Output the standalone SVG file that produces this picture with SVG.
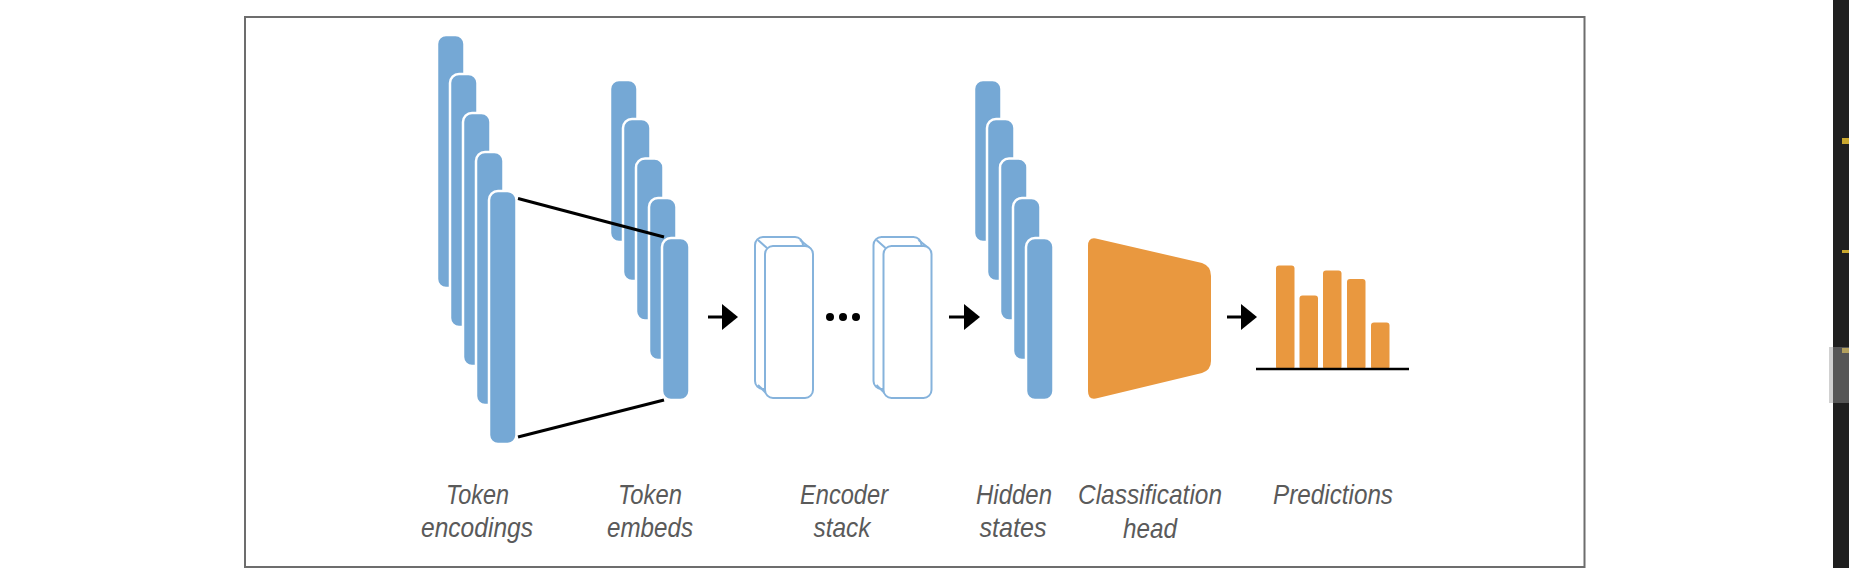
<svg xmlns="http://www.w3.org/2000/svg" width="1849" height="568" viewBox="0 0 1849 568">
  <style>
    .bar { fill: #75a8d5; stroke: #ffffff; stroke-width: 2.5; }
    .enc { fill: #ffffff; stroke: #86b3dc; stroke-width: 2; }
    .encl { fill: none; stroke: #86b3dc; stroke-width: 2; }
    .org { fill: #e9983f; }
    .lbl { font-family: "Liberation Sans", Arial, sans-serif; font-style: italic; font-size: 28px; fill: #5a5a5a; text-anchor: middle; }
    .conn { stroke: #000000; stroke-width: 3; fill: none; }
    .shaft { stroke: #000000; stroke-width: 3; fill: none; }
  </style>
  <defs>
    <rect id="tall" width="27.5" height="253" rx="9" ry="9"/>
    <rect id="short" width="27.5" height="162" rx="9" ry="9"/>
    <g id="encblock">
      <rect class="encl" x="0" y="0" width="48" height="152" rx="8" ry="8"/>
      <line class="encl" x1="3" y1="3" x2="12" y2="11"/>
      <line class="encl" x1="45" y1="3" x2="55" y2="11"/>
      <line class="encl" x1="3" y1="148" x2="12" y2="157"/>
      <rect class="enc" x="10" y="9" width="48" height="152" rx="8" ry="8"/>
    </g>
    <path id="ahead" d="M0,-13 L16,0 L0,13 Z" fill="#000000"/>
  </defs>

  <rect x="0" y="0" width="1849" height="568" fill="#ffffff"/>
  <rect x="245" y="17" width="1339.5" height="550" fill="none" stroke="#6d6d6d" stroke-width="2"/>

  <g id="token-encodings">
    <use href="#tall" class="bar" x="437" y="35"/>
    <use href="#tall" class="bar" x="450" y="74"/>
    <use href="#tall" class="bar" x="463" y="113"/>
    <use href="#tall" class="bar" x="476" y="152"/>
    <use href="#tall" class="bar" x="489" y="191"/>
    <text class="lbl" x="477.5" y="504" textLength="63" lengthAdjust="spacingAndGlyphs">Token</text>
    <text class="lbl" x="477" y="537" textLength="112" lengthAdjust="spacingAndGlyphs">encodings</text>
  </g>

  <g id="token-embeds">
    <use href="#short" class="bar" x="610" y="80"/>
    <use href="#short" class="bar" x="623" y="119"/>
    <use href="#short" class="bar" x="636" y="158.5"/>
    <use href="#short" class="bar" x="649" y="198"/>
    <text class="lbl" x="650" y="504" textLength="64" lengthAdjust="spacingAndGlyphs">Token</text>
    <text class="lbl" x="650" y="537" textLength="86" lengthAdjust="spacingAndGlyphs">embeds</text>
  </g>

  <g id="connectors">
    <line class="conn" x1="518" y1="198.5" x2="664" y2="237"/>
    <line class="conn" x1="518" y1="437" x2="664" y2="400"/>
    <line class="shaft" x1="708" y1="317" x2="724" y2="317"/>
    <use href="#ahead" x="722" y="317"/>
    <line class="shaft" x1="949" y1="317" x2="966" y2="317"/>
    <use href="#ahead" x="964" y="317"/>
    <line class="shaft" x1="1227" y1="317" x2="1243" y2="317"/>
    <use href="#ahead" x="1241" y="317"/>
  </g>

  <g id="token-embeds-front">
    <use href="#short" class="bar" x="662" y="238"/>
  </g>

  <g id="encoder-stack">
    <use href="#encblock" x="755" y="237"/>
    <circle cx="830" cy="317" r="4" fill="#000000"/>
    <circle cx="843" cy="317" r="4" fill="#000000"/>
    <circle cx="856" cy="317" r="4" fill="#000000"/>
    <use href="#encblock" x="873.5" y="237"/>
    <text class="lbl" x="844" y="504" textLength="88" lengthAdjust="spacingAndGlyphs">Encoder</text>
    <text class="lbl" x="842" y="537" textLength="57" lengthAdjust="spacingAndGlyphs">stack</text>
  </g>

  <g id="hidden-states">
    <use href="#short" class="bar" x="974" y="80"/>
    <use href="#short" class="bar" x="987" y="119"/>
    <use href="#short" class="bar" x="1000" y="158.5"/>
    <use href="#short" class="bar" x="1013" y="198"/>
    <use href="#short" class="bar" x="1026" y="238"/>
    <text class="lbl" x="1014" y="504" textLength="76" lengthAdjust="spacingAndGlyphs">Hidden</text>
    <text class="lbl" x="1013" y="537" textLength="67" lengthAdjust="spacingAndGlyphs">states</text>
  </g>

  <g id="classification-head">
    <path class="org" d="M1088,246 Q1088,236 1098,239 L1202,263 Q1211,266 1211,276 L1211,361 Q1211,370 1202,373 L1098,398 Q1088,401 1088,391 Z"/>
    <text class="lbl" x="1150" y="504" textLength="144" lengthAdjust="spacingAndGlyphs">Classification</text>
    <text class="lbl" x="1150" y="538" textLength="54" lengthAdjust="spacingAndGlyphs">head</text>
  </g>

  <g id="predictions">
    <rect class="org" x="1276" y="265.5" width="18.5" height="104" rx="3"/>
    <rect class="org" x="1299.5" y="295.5" width="18.5" height="74" rx="3"/>
    <rect class="org" x="1323" y="270.5" width="18.5" height="99" rx="3"/>
    <rect class="org" x="1347" y="279" width="18.5" height="90.5" rx="3"/>
    <rect class="org" x="1371" y="322.5" width="18.5" height="47" rx="3"/>
    <line x1="1256" y1="369" x2="1409" y2="369" stroke="#000000" stroke-width="2.5"/>
    <text class="lbl" x="1333" y="504" textLength="120" lengthAdjust="spacingAndGlyphs">Predictions</text>
  </g>

  <g id="sidebar">
    <rect x="1833" y="0" width="16" height="568" fill="#1f1f1f"/>
    <rect x="1842" y="138" width="7" height="6" fill="#c9a72e"/>
    <rect x="1842" y="250" width="7" height="3" fill="#c9a72e"/>
    <rect x="1842" y="348" width="7" height="5" fill="#c9a72e"/>
    <rect x="1829" y="347" width="20" height="56" fill="#9a9a9a" fill-opacity="0.45"/>
  </g>
</svg>
